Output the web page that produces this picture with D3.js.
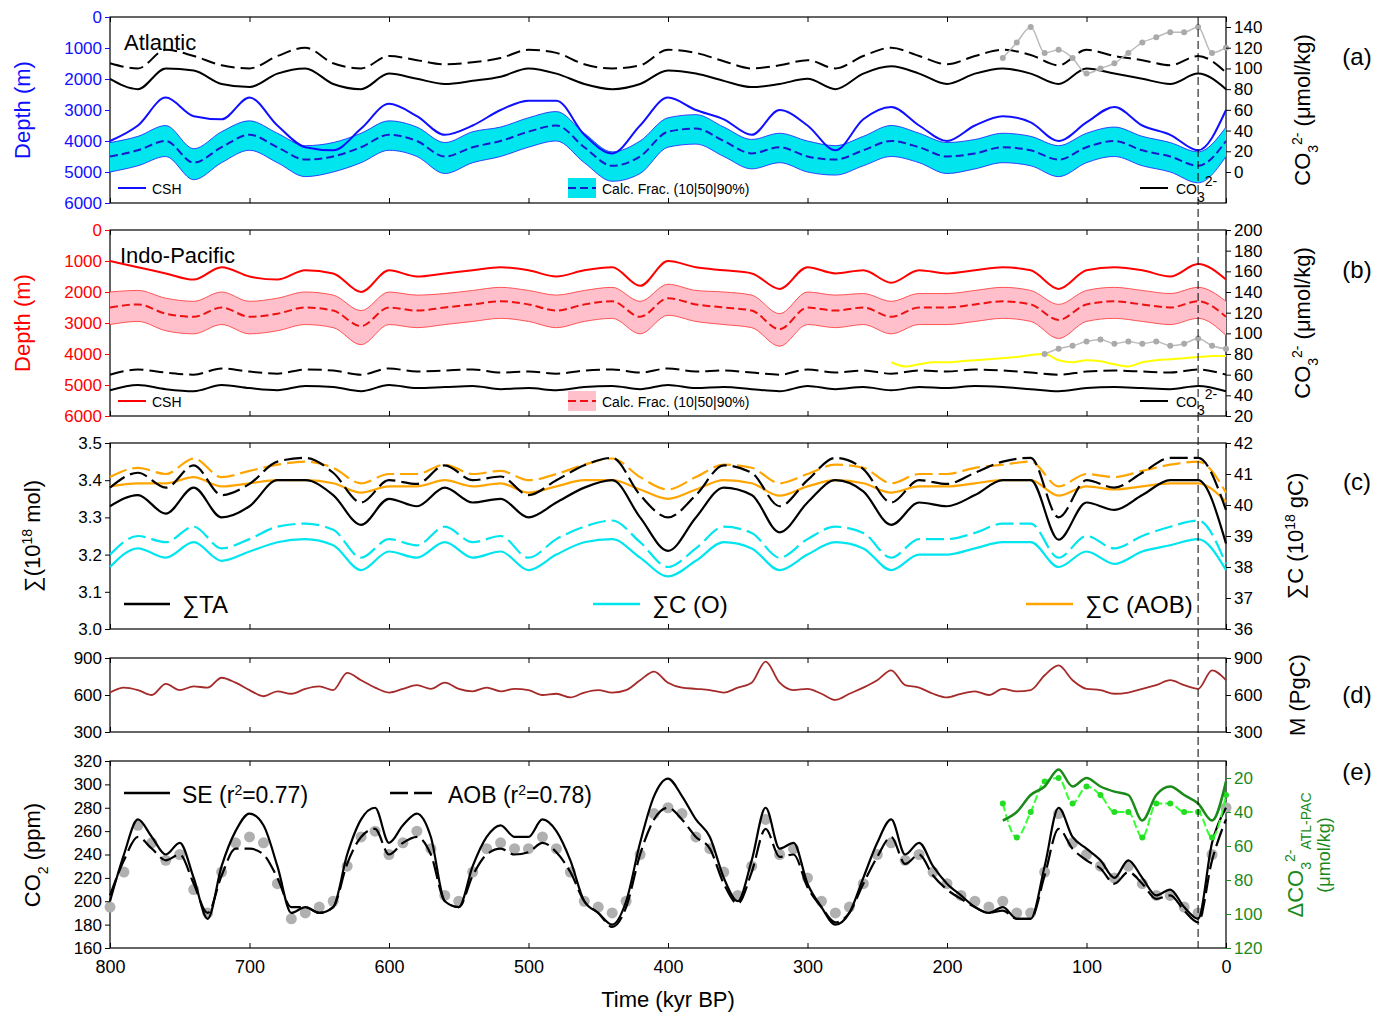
<!DOCTYPE html>
<html><head><meta charset="utf-8">
<script src="https://cdn.jsdelivr.net/npm/d3@7"></script>
<style>body{margin:0;background:#fff}text{font-family:"Liberation Sans",Arial,sans-serif}</style>
</head><body><svg id="chart" width="1388" height="1017"></svg>
<script>
// time grids (kyr BP)
const t20 = d3.range(800, -1, -20);
const t10 = d3.range(800, -1, -10);

// panel (a) Atlantic
const aCSH = [4000,3500,2600,3200,3300,2600,3500,4200,4300,3600,2800,3200,3800,3500,3000,2700,2700,3800,4400,3500,2600,3000,3300,3800,3000,3500,4300,3300,2900,3500,4000,3500,3200,3400,4000,3400,2900,3500,3800,4300,3000];
const aFrac50 = [4500,4300,4000,4700,4200,3800,4200,4600,4500,4200,3800,4000,4500,4200,4000,3700,3500,4200,4800,4500,3700,3600,4000,4400,4200,4500,4600,4300,4000,4200,4500,4400,4200,4300,4600,4200,4000,4300,4500,4800,4000];
const aFrac10 = [4050,3850,3500,4250,3700,3350,3750,4150,4050,3750,3350,3550,4050,3700,3550,3250,3050,3750,4350,4000,3250,3150,3550,3950,3750,4000,4150,3850,3500,3750,4050,3950,3750,3850,4150,3750,3550,3850,4050,4350,3550];
const aFrac90 = [5000,4800,4500,5250,4700,4300,4700,5150,5000,4700,4300,4500,5050,4700,4500,4200,4000,4700,5300,5050,4200,4100,4500,4900,4700,5000,5100,4800,4500,4700,5050,4900,4700,4800,5150,4700,4500,4800,5000,5350,4500];
const aCO3 = [90,80,100,98,85,82,95,100,85,80,95,90,85,88,92,100,95,85,80,85,98,95,88,82,85,90,80,95,102,95,85,95,100,95,85,100,95,90,85,95,80];
const aCO3d = [105,100,118,112,103,100,112,120,105,100,112,108,104,106,110,118,115,104,100,103,118,115,107,100,103,108,100,112,120,112,104,112,118,113,103,118,112,108,103,112,96];
const aDotsT = d3.range(160, -1, -10);
const aDots = [110,125,140,115,118,110,95,100,105,115,125,130,135,135,140,115,120];

// panel (b) Indo-Pacific
const bCSH = [1000,1200,1400,1600,1200,1500,1600,1300,1400,2000,1300,1500,1400,1300,1200,1300,1500,1300,1200,1800,1000,1200,1300,1400,1900,1200,1400,1300,1700,1300,1400,1300,1200,1300,1900,1300,1200,1300,1500,1100,1600];
const bFrac50 = [2500,2400,2700,2800,2500,2800,2700,2500,2600,3100,2500,2600,2500,2400,2300,2400,2600,2400,2300,2800,2200,2400,2500,2600,3200,2500,2600,2500,2800,2500,2500,2400,2300,2400,2900,2400,2300,2400,2500,2300,2800];
const bFrac10 = [2000,1950,2200,2300,2000,2300,2200,2000,2100,2600,2000,2100,2050,1950,1850,1950,2100,1950,1850,2300,1750,1950,2000,2100,2700,2000,2100,2050,2300,2050,2050,1950,1850,1950,2400,1950,1850,1950,2050,1850,2300];
const bFrac90 = [3050,2950,3250,3350,3050,3350,3250,3050,3150,3700,3050,3150,3050,2950,2850,2950,3150,2950,2850,3350,2750,2950,3050,3150,3750,3050,3150,3050,3350,3050,3050,2950,2850,2950,3500,2950,2850,2950,3050,2850,3400];
const bCO3 = [45,50,46,44,50,47,45,49,48,44,50,47,48,49,46,47,45,48,49,46,50,47,48,46,44,49,46,48,45,48,47,49,48,46,44,47,48,47,46,49,44];
const bCO3d = [60,65,62,60,66,63,61,65,64,60,66,63,64,65,62,63,61,64,65,62,66,63,64,62,60,65,62,64,61,64,63,65,64,62,60,63,64,63,62,65,60];
const bYellowT = d3.range(240, -1, -10);
const bYellow = [72,68,70,72,72,73,74,75,76,77,79,80,74,72,74,73,70,68,72,74,75,76,77,78,78];
const bDotsT = d3.range(130, -1, -10);
const bDots = [80,85,88,92,94,90,92,90,92,88,90,95,88,85];

// panel (c) inventories
const cTA = [3.33,3.36,3.31,3.38,3.30,3.33,3.40,3.40,3.36,3.28,3.35,3.33,3.38,3.34,3.35,3.30,3.34,3.38,3.40,3.30,3.21,3.30,3.38,3.36,3.26,3.34,3.40,3.37,3.28,3.34,3.33,3.36,3.40,3.40,3.24,3.34,3.32,3.36,3.40,3.40,3.23];
const cTAd = [3.38,3.42,3.38,3.44,3.36,3.39,3.45,3.46,3.42,3.34,3.40,3.39,3.44,3.40,3.41,3.36,3.40,3.44,3.46,3.36,3.30,3.36,3.44,3.42,3.33,3.40,3.46,3.43,3.34,3.40,3.39,3.42,3.45,3.46,3.30,3.40,3.38,3.42,3.46,3.46,3.32];
const cCO = [38.0,38.6,38.3,38.8,38.2,38.5,38.8,38.9,38.7,37.9,38.5,38.3,38.8,38.3,38.5,37.9,38.4,38.8,38.9,38.3,37.7,38.2,38.8,38.6,37.9,38.4,38.8,38.6,37.9,38.4,38.4,38.6,38.8,38.8,38.0,38.5,38.1,38.5,38.7,38.9,37.9];
const cCOd = [38.4,39.0,38.8,39.3,38.6,38.9,39.3,39.4,39.2,38.3,38.9,38.7,39.3,38.8,39.0,38.3,38.9,39.3,39.5,38.8,38.0,38.6,39.3,39.1,38.3,38.9,39.3,39.1,38.3,38.9,38.9,39.1,39.4,39.4,38.3,39.0,38.6,39.0,39.3,39.5,38.1];
const cCAOB = [40.6,40.7,40.7,40.9,40.6,40.7,40.8,40.8,40.7,40.4,40.6,40.6,40.8,40.6,40.7,40.4,40.6,40.8,40.8,40.5,40.2,40.5,40.8,40.7,40.3,40.6,40.8,40.7,40.4,40.6,40.6,40.7,40.8,40.8,40.3,40.6,40.5,40.6,40.7,40.7,40.1];
const cCAOBd = [40.9,41.2,41.0,41.5,40.9,41.1,41.3,41.4,41.2,40.7,41.0,41.0,41.3,41.0,41.1,40.8,41.0,41.3,41.5,40.9,40.5,40.9,41.3,41.2,40.7,41.0,41.3,41.2,40.7,41.0,41.0,41.2,41.3,41.4,40.6,41.0,40.9,41.1,41.3,41.4,40.4];

// panel (d) M (PgC)
const dM = [620,660,640,600,690,640,670,660,740,700,640,590,630,610,650,670,640,780,720,660,620,650,680,650,700,650,630,660,630,650,640,600,610,580,620,640,620,640,720,790,700,660,650,640,620,660,700,870,700,640,650,610,560,610,660,720,800,680,660,610,580,610,630,600,650,630,640,760,840,720,650,640,610,620,650,680,720,680,650,800,720];

// panel (e) CO2
const eSE = [200,240,270,255,240,250,220,185,230,260,275,265,230,190,195,190,195,240,270,280,250,265,275,255,200,195,230,255,265,255,255,270,260,235,200,190,180,200,250,290,305,290,270,255,220,200,235,280,245,250,215,195,180,190,220,250,270,240,250,230,215,205,195,190,195,185,185,230,280,255,245,235,220,235,220,205,210,195,185,250,280];
const eAOB = [205,235,255,245,235,240,215,190,222,245,245,240,220,195,195,190,195,232,255,262,240,250,255,240,200,195,222,240,245,240,242,250,242,225,200,190,178,195,240,270,280,270,255,245,215,198,225,262,238,240,212,195,182,190,215,238,255,232,240,222,210,202,195,190,192,185,185,222,262,245,235,228,215,225,215,202,205,192,182,235,270];
const eIce = [195,225,265,250,235,240,210,190,225,250,255,250,215,185,190,195,200,230,255,260,240,250,260,245,205,200,225,245,250,245,245,255,245,225,200,195,190,200,240,275,280,275,255,245,225,205,230,270,240,245,220,200,190,195,215,240,250,235,240,225,215,205,200,195,200,190,190,225,275,250,240,230,220,230,215,205,205,195,190,240,280];
const eGreenT = d3.range(160, -1, -10);
const eGreenDark = [45,40,30,25,15,25,20,25,28,30,45,30,25,30,35,45,22];
const eGreenLight = [35,55,40,22,20,35,25,30,40,40,55,35,35,40,40,55,30];

const svg = d3.select("#chart");
const x = d3.scaleLinear().domain([800, 0]).range([110, 1226]);
const F = "Liberation Sans, Arial, sans-serif";

function frame(top, bot) {
  svg.append("rect").attr("x", 110).attr("y", top).attr("width", 1116).attr("height", bot - top)
    .attr("fill", "none").attr("stroke", "#000").attr("stroke-width", 1.2);
  const ax = d3.axisBottom(x).tickValues(d3.range(800, -1, -100)).tickSize(-5).tickFormat("");
  svg.append("g").attr("transform", `translate(0,${bot})`).call(ax).call(g => g.select(".domain").remove());
  const ax2 = d3.axisTop(x).tickValues(d3.range(800, -1, -100)).tickSize(-5).tickFormat("");
  svg.append("g").attr("transform", `translate(0,${top})`).call(ax2).call(g => g.select(".domain").remove());
}
function yAxis(scale, side, ticks, color, fmt) {
  const a = (side === "l" ? d3.axisLeft(scale) : d3.axisRight(scale)).tickValues(ticks).tickSize(5).tickPadding(3).tickFormat(fmt || (d => d));
  const g = svg.append("g").attr("transform", `translate(${side === "l" ? 110 : 1226},0)`).call(a);
  g.select(".domain").remove();
  g.selectAll("text").attr("font-size", 17).attr("font-family", F).attr("fill", color);
  g.selectAll("line").attr("stroke", color);
}
function line(ts, vs, y, color, w, dash) {
  svg.append("path").datum(ts.map((t, i) => [t, vs[i]]))
    .attr("d", d3.line().x(d => x(d[0])).y(d => y(d[1])).curve(d3.curveMonotoneX))
    .attr("fill", "none").attr("stroke", color).attr("stroke-width", w).attr("stroke-dasharray", dash || null);
}
function band(ts, lo, hi, y, color) {
  svg.append("path").datum(ts.map((t, i) => [t, lo[i], hi[i]]))
    .attr("d", d3.area().x(d => x(d[0])).y0(d => y(d[1])).y1(d => y(d[2])).curve(d3.curveMonotoneX))
    .attr("fill", color).attr("stroke", "none");
}
function dots(ts, vs, y, color, r) {
  svg.append("g").selectAll("circle").data(ts.map((t, i) => [t, vs[i]])).join("circle")
    .attr("cx", d => x(d[0])).attr("cy", d => y(d[1])).attr("r", r).attr("fill", color);
}
function txt(xp, yp, s, size, color, rot, anchor) {
  const e = svg.append("text").attr("x", xp).attr("y", yp).attr("font-size", size).attr("fill", color || "#000")
    .attr("text-anchor", anchor || "middle");
  if (rot) e.attr("transform", `rotate(-90,${xp},${yp})`);
  e.html(s);
  return e;
}
function legLine(x1, yp, color, dash, w) {
  svg.append("line").attr("x1", x1).attr("x2", x1 + 28).attr("y1", yp).attr("y2", yp)
    .attr("stroke", color).attr("stroke-width", w || 2).attr("stroke-dasharray", dash || null);
}
const co3Label = '(&#956;mol/kg)';
const sup = s => `<tspan baseline-shift="super" font-size="14">${s}</tspan>`;
const sub = s => `<tspan baseline-shift="sub" font-size="14">${s}</tspan>`;

// ---------- (a)
const yaL = d3.scaleLinear().domain([0, 6000]).range([17, 203]);
const yaR = d3.scaleLinear().domain([0, 140]).range([172, 27]);
frame(17, 203);
band(t20, aFrac10, aFrac90, yaL, "#00e5ee");
line(t20, aFrac10, yaL, "#1a1aff", 0.8);
line(t20, aFrac90, yaL, "#1a1aff", 0.8);
line(t20, aFrac50, yaL, "#1a1acc", 2, "8,4");
line(t20, aCSH, yaL, "#1010ff", 2);
line(t20, aCO3, yaR, "#000", 2);
line(t20, aCO3d, yaR, "#000", 2, "14,6");
line(aDotsT, aDots, yaR, "#bbb", 1.5);
dots(aDotsT, aDots, yaR, "#aaa", 3);
yAxis(yaL, "l", d3.range(0, 6001, 1000), "#1010ff");
yAxis(yaR, "r", d3.range(0, 141, 20), "#000");
txt(124, 50, "Atlantic", 22, "#000", false, "start");
legLine(118, 188, "#1010ff");
txt(152, 194, "CSH", 14, "#000", false, "start");
svg.append("rect").attr("x", 568).attr("y", 178).attr("width", 28).attr("height", 20).attr("fill", "#00e5ee");
legLine(568, 188, "#1a1acc", "8,4");
txt(602, 194, "Calc. Frac. (10|50|90%)", 14, "#000", false, "start");
legLine(1140, 188, "#000");
txt(1176, 194, "CO" + sub("3") + sup("2-"), 14, "#000", false, "start");
txt(30, 110, "Depth (m)", 22, "#1010ff", true);
txt(1310, 110, "CO" + sub("3") + sup("2-") + " " + co3Label, 22, "#000", true);
txt(1357, 65, "(a)", 24, "#000");

// ---------- (b)
const ybL = d3.scaleLinear().domain([0, 6000]).range([230, 416]);
const ybR = d3.scaleLinear().domain([20, 200]).range([416, 230]);
frame(230, 416);
band(t20, bFrac10, bFrac90, ybL, "#ffc0cb");
line(t20, bFrac10, ybL, "#ff3030", 0.8);
line(t20, bFrac90, ybL, "#ff3030", 0.8);
line(t20, bFrac50, ybL, "#ee1111", 2, "8,4");
line(t20, bCSH, ybL, "#ff0000", 2);
line(t20, bCO3, ybR, "#000", 2);
line(t20, bCO3d, ybR, "#000", 2, "14,6");
line(bYellowT, bYellow, ybR, "#ffff00", 2);
line(bDotsT, bDots, ybR, "#bbb", 1.5);
dots(bDotsT, bDots, ybR, "#aaa", 3);
yAxis(ybL, "l", d3.range(0, 6001, 1000), "#ff0000");
yAxis(ybR, "r", d3.range(20, 201, 20), "#000");
txt(120, 263, "Indo-Pacific", 22, "#000", false, "start");
legLine(118, 401, "#ff0000");
txt(152, 407, "CSH", 14, "#000", false, "start");
svg.append("rect").attr("x", 568).attr("y", 391).attr("width", 28).attr("height", 20).attr("fill", "#ffc0cb");
legLine(568, 401, "#ee1111", "8,4");
txt(602, 407, "Calc. Frac. (10|50|90%)", 14, "#000", false, "start");
legLine(1140, 401, "#000");
txt(1176, 407, "CO" + sub("3") + sup("2-"), 14, "#000", false, "start");
txt(30, 323, "Depth (m)", 22, "#ff0000", true);
txt(1310, 323, "CO" + sub("3") + sup("2-") + " " + co3Label, 22, "#000", true);
txt(1357, 278, "(b)", 24, "#000");

// ---------- (c)
const ycL = d3.scaleLinear().domain([3.0, 3.5]).range([629, 443]);
const ycR = d3.scaleLinear().domain([36, 42]).range([629, 443]);
frame(443, 629);
line(t20, cCO, ycR, "#00e5ee", 2.2);
line(t20, cCOd, ycR, "#00e5ee", 2.2, "18,6");
line(t20, cCAOB, ycR, "#ffa500", 2.2);
line(t20, cCAOBd, ycR, "#ffa500", 2.2, "18,6");
line(t20, cTA, ycL, "#000", 2.2);
line(t20, cTAd, ycL, "#000", 2.2, "18,6");
yAxis(ycL, "l", d3.range(3.0, 3.51, 0.1), "#000", d3.format(".1f"));
yAxis(ycR, "r", d3.range(36, 43, 1), "#000");
svg.append("line").attr("x1", 124).attr("x2", 170).attr("y1", 604).attr("y2", 604).attr("stroke", "#000").attr("stroke-width", 2.5);
txt(182, 613, "&#8721;TA", 24, "#000", false, "start");
svg.append("line").attr("x1", 593).attr("x2", 640).attr("y1", 604).attr("y2", 604).attr("stroke", "#00e5ee").attr("stroke-width", 2.5);
txt(652, 613, "&#8721;C (O)", 24, "#000", false, "start");
svg.append("line").attr("x1", 1026).attr("x2", 1073).attr("y1", 604).attr("y2", 604).attr("stroke", "#ffa500").attr("stroke-width", 2.5);
txt(1085, 613, "&#8721;C (AOB)", 24, "#000", false, "start");
txt(40, 536, "&#8721;(10" + sup("18") + " mol)", 22, "#000", true);
txt(1303, 536, "&#8721;C (10" + sup("18") + " gC)", 22, "#000", true);
txt(1357, 490, "(c)", 24, "#000");

// ---------- (d)
const yd = d3.scaleLinear().domain([300, 900]).range([732, 658]);
frame(658, 732);
line(t10, dM, yd, "#a52a2a", 1.8);
yAxis(yd, "l", [300, 600, 900], "#000");
yAxis(yd, "r", [300, 600, 900], "#000");
txt(1305, 695, "M (PgC)", 22, "#000", true);
txt(1357, 703, "(d)", 24, "#000");

// ---------- (e)
const ye = d3.scaleLinear().domain([160, 320]).range([948, 761]);
const yeR = d3.scaleLinear().domain([10, 120]).range([761, 948]);
frame(761, 948);
dots(t10, eIce, ye, "#b0b0b0", 5.5);
line(t10, eAOB, ye, "#000", 2.2, "18,6");
line(t10, eSE, ye, "#000", 2.2);
line(eGreenT, eGreenLight, yeR, "#33ff33", 2, "8,3");
dots(eGreenT, eGreenLight, yeR, "#22dd22", 3);
line(eGreenT, eGreenDark, yeR, "#1a8a1a", 2.5);
yAxis(ye, "l", d3.range(160, 321, 20), "#000");
yAxis(yeR, "r", d3.range(20, 121, 20), "#1a8a1a");
svg.append("line").attr("x1", 124).attr("x2", 170).attr("y1", 793).attr("y2", 793).attr("stroke", "#000").attr("stroke-width", 2.5);
txt(182, 803, "SE (r" + sup("2") + "=0.77)", 23, "#000", false, "start");
svg.append("line").attr("x1", 390).attr("x2", 436).attr("y1", 793).attr("y2", 793).attr("stroke", "#000").attr("stroke-width", 2.5).attr("stroke-dasharray", "18,6");
txt(448, 803, "AOB (r" + sup("2") + "=0.78)", 23, "#000", false, "start");
txt(40, 855, "CO" + sub("2") + " (ppm)", 22, "#000", true);
txt(1303, 855, "&#916;CO" + sub("3") + sup("2-") + sub("ATL-PAC"), 22, "#1a8a1a", true);
txt(1330, 855, co3Label, 18, "#1a8a1a", true);
txt(1357, 780, "(e)", 24, "#000");

// x axis labels
const xa = svg.append("g").attr("transform", "translate(0,948)")
  .call(d3.axisBottom(x).tickValues(d3.range(800, -1, -100)).tickSize(0).tickPadding(12));
xa.select(".domain").remove();
xa.selectAll("text").attr("font-size", 18).attr("font-family", F);
txt(668, 1007, "Time (kyr BP)", 22, "#000");

// 20 kyr marker
svg.append("line").attr("x1", x(20)).attr("x2", x(20)).attr("y1", 17).attr("y2", 948)
  .attr("stroke", "#000").attr("stroke-width", 1).attr("stroke-dasharray", "8,4");
</script></body></html>
